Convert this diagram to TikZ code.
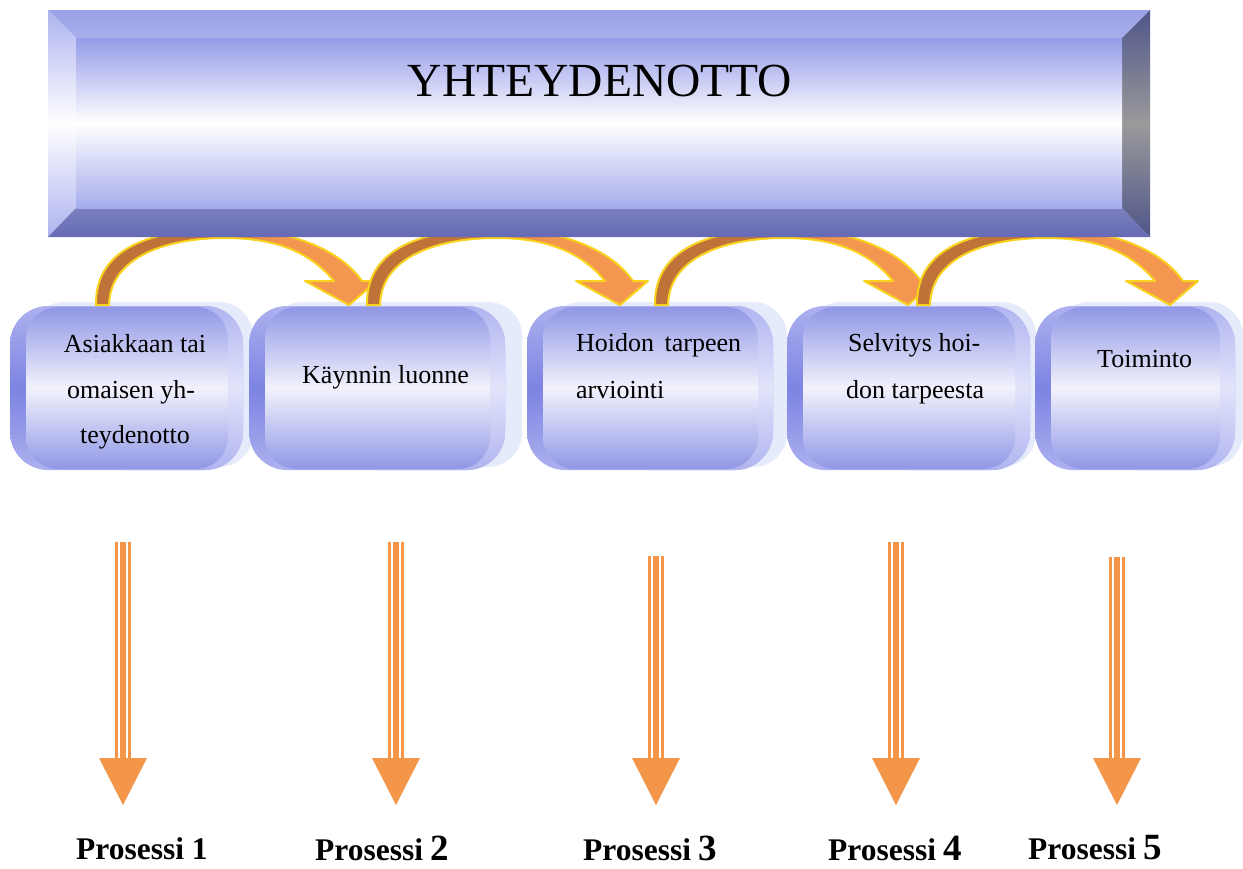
\documentclass[tikz,border=0pt]{standalone}
\usepackage{fontspec}
\setmainfont{Liberation Serif}
\definecolor{brn}{HTML}{C07338}
\definecolor{org}{HTML}{F39650}
\definecolor{ylw}{HTML}{F8D21C}
\definecolor{arr}{HTML}{F39649}
\definecolor{bevTop}{HTML}{99A1E8}
\definecolor{bevLeft}{HTML}{AEB3EE}
\definecolor{bevBotA}{HTML}{7B80BE}
\definecolor{bevBotB}{HTML}{666AB5}
\definecolor{bevRightA}{HTML}{4F5589}
\definecolor{bevRightB}{HTML}{9A9A9A}
\definecolor{faceTop}{HTML}{959BE8}
\definecolor{faceBot}{HTML}{A6ACEC}
\definecolor{frEdge}{HTML}{ADB1EF}
\definecolor{frDark}{HTML}{7C83E2}
\definecolor{frLight}{HTML}{E2E4FA}
\definecolor{boxFace}{HTML}{9097E6}
\definecolor{boxMid}{HTML}{F2F2FC}
\definecolor{backPale}{HTML}{E6EBFC}
\pgfdeclarehorizontalshading{curvsh}{100bp}{color(0bp)=(brn); color(42bp)=(brn); color(58bp)=(org); color(100bp)=(org)}
\tikzset{
  boxtxt/.style={inner sep=0pt, font=\fontsize{26pt}{30pt}\selectfont},
  titletxt/.style={inner sep=0pt, font=\fontsize{47.5pt}{50pt}\selectfont},
  proctxt/.style={inner sep=0pt, text depth=0pt, font=\bfseries\fontsize{31.5pt}{32pt}\selectfont},
  curvedarrow/.style={draw=ylw, line width=2pt, line join=round, shading=curvsh},
  shaftline/.style={draw=arr},
}
\newcommand\bignum[1]{{\fontsize{37pt}{37pt}\selectfont #1}}
\begin{document}
\begin{tikzpicture}[x=1pt,y=-1pt]
\useasboundingbox (0,0) rectangle (1243,868);
\fill[white] (0,0) rectangle (1243,868);

% ---- step boxes: pale back plate, framed front, shaded face ----
\foreach \L/\R/\Rb in {10/243/253, 249/505/522, 527/773/787, 787/1030/1036, 1035/1235/1243}{
  \fill[backPale, rounded corners=34] (\L+20,302) rectangle (\Rb,467);
  \shade[rounded corners=38, top color=frEdge, bottom color=frEdge, middle color=frDark] (\L,306) rectangle (\R,470);
  \begin{scope}
    \clip[rounded corners=38] (\L,306) rectangle (\R,470);
    \shade[top color=frEdge, bottom color=frEdge, middle color=frLight] ({(\L+\R)/2},300) rectangle (\R+2,476);
  \end{scope}
  \shade[rounded corners=32, top color=boxFace, bottom color=boxFace, middle color=boxMid] (\L+16,307) rectangle (\R-15,469);
}

% ---- box texts ----
\node[boxtxt, anchor=base] (t1a) at (135,352) {Asiakkaan tai};
\node[boxtxt, anchor=base] (t1b) at (131,398) {omaisen yh-};
\node[boxtxt, anchor=base] (t1c) at (135,443) {teydenotto};
\node[boxtxt, anchor=base west] (t2) at (302,383) {Käynnin luonne};
\node[boxtxt, anchor=base west] (t3a) at (576,351) {\makebox[165pt][s]{Hoidon tarpeen}};
\node[boxtxt, anchor=base west] (t3b) at (576,398) {arviointi};
\node[boxtxt, anchor=base west] (t4a) at (848,351) {Selvitys hoi-};
\node[boxtxt, anchor=base west] (t4b) at (846,398) {don tarpeesta};
\node[boxtxt, anchor=base west] (t5) at (1097,367) {Toiminto};

% ---- curved arrows from one box to the next ----
\foreach \dx in {0,271,559,821}{
  \begin{scope}[shift={(\dx,0)}]
    \path[curvedarrow]
      (96,305) .. controls (95,246) and (155,229) .. (225,229)
      .. controls (292,229) and (340,250) .. (362,281)
      -- (377,281) -- (349,305) -- (305,281) -- (334,281)
      .. controls (310,252) and (276,238) .. (225,238)
      .. controls (166,238) and (110,257) .. (109,305) -- cycle;
  \end{scope}
}

% ---- bevelled banner ----
\shade[top color=bevTop, bottom color=bevTop!85!white] (48,10) -- (1150,10) -- (1122,38) -- (76,38) -- cycle;
\shade[top color=bevLeft, bottom color=bevLeft, middle color=white] (48,10) -- (76,38) -- (76,208) -- (48,237) -- cycle;
\shade[top color=bevBotA, bottom color=bevBotB] (48,237) -- (76,208) -- (1122,208) -- (1150,237) -- cycle;
\shade[top color=bevRightA, bottom color=bevRightA, middle color=bevRightB] (1150,10) -- (1150,237) -- (1122,208) -- (1122,38) -- cycle;
\shade[top color=faceTop, bottom color=faceBot, middle color=white] (76,38) rectangle (1122,208);
\node[titletxt, anchor=base] (title) at (600,96) {YHTEYDENOTTO};

% ---- vertical arrows to the processes ----
\foreach \i/\x/\y in {1/123/542, 2/396/542, 3/656/556, 4/896/542, 5/1117/557}{
  \coordinate (v\i s) at (\x,\y);
  \coordinate (v\i e) at (\x,758);
  \draw[shaftline, line width=3pt] ([xshift=-6.5pt]v\i s) -- ([xshift=-6.5pt]v\i e);
  \draw[shaftline, line width=6pt] (v\i s) -- (v\i e);
  \draw[shaftline, line width=3pt] ([xshift=6.5pt]v\i s) -- ([xshift=6.5pt]v\i e);
  \fill[arr] ([xshift=-24pt]v\i e) -- ([xshift=24pt]v\i e) -- ([yshift=-47pt]v\i e) -- cycle;
}

% ---- process labels ----
\node[proctxt, anchor=base west] (p1) at (76,859) {Prosessi 1};
\node[proctxt, anchor=base west] (p2) at (315,860) {Prosessi \bignum{2}};
\node[proctxt, anchor=base west] (p3) at (583,860) {Prosessi \bignum{3}};
\node[proctxt, anchor=base west] (p4) at (828,860) {Prosessi \bignum{4}};
\node[proctxt, anchor=base west] (p5) at (1028,859) {Prosessi \bignum{5}};
\end{tikzpicture}
\end{document}
